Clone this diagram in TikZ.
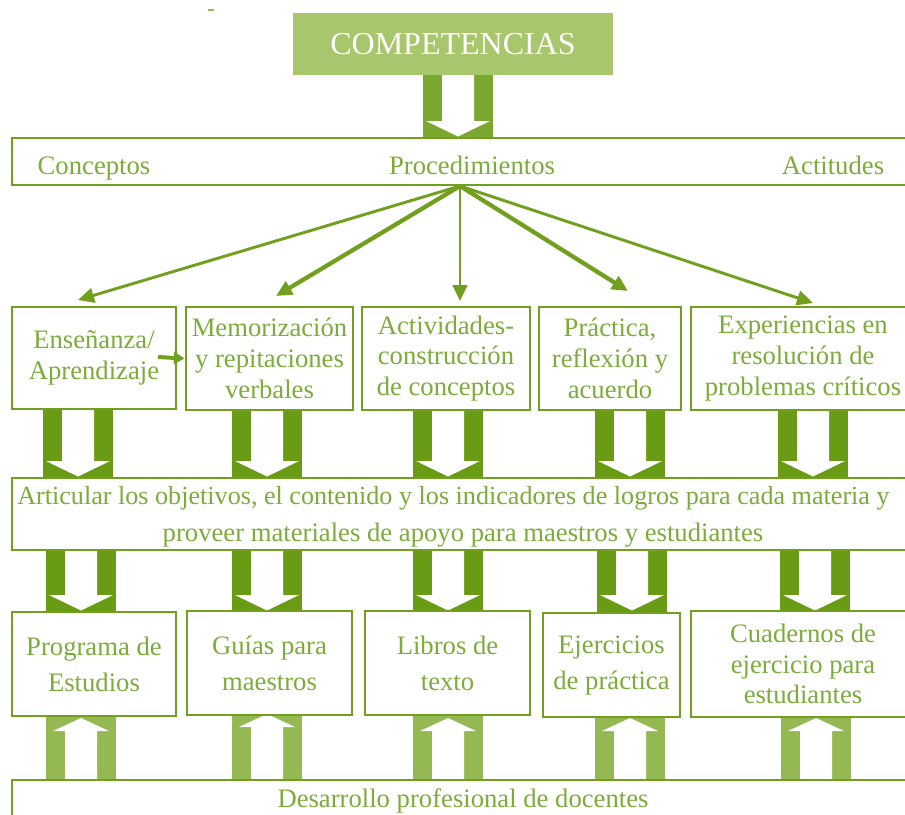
\documentclass[tikz,border=0pt]{standalone}
\usepackage{fontspec}
\setmainfont{Liberation Serif}
\usetikzlibrary{arrows.meta}
\definecolor{txtg}{RGB}{124,172,58}
\definecolor{lineg}{RGB}{112,160,30}
\definecolor{darkg}{RGB}{106,155,20}
\definecolor{midg}{RGB}{122,168,46}
\definecolor{lightg}{RGB}{148,184,82}
\definecolor{headg}{RGB}{168,198,108}
\newcommand\blkdown[4]{%
  \fill[#4] (#1-35,#2) rectangle (#1+35,#3);
  \fill[white] (#1-16,#2) -- (#1+16,#2) -- (#1+16,#3-17) -- (#1+32,#3-17) -- (#1,#3-1.5) -- (#1-32,#3-17) -- (#1-16,#3-17) -- cycle;}
\newcommand\blkup[4]{%
  \fill[#4] (#1-35,#2) rectangle (#1+35,#3);
  \fill[white] (#1-16,#3) -- (#1+16,#3) -- (#1+16,#2+15) -- (#1+28,#2+15) -- (#1,#2+2) -- (#1-28,#2+15) -- (#1-16,#2+15) -- cycle;}
\begin{document}
\begin{tikzpicture}[x=0.75pt,y=-0.75pt,
  sz/.style 2 args={minimum width=#1*0.75pt,minimum height=#2*0.75pt},
  box/.style={draw=lineg,line width=2.2pt,fill=white,text=txtg,align=center,
     font=\fontsize{20}{23}\selectfont,inner sep=0pt},
  lbl/.style={text=txtg,font=\fontsize{20}{23}\selectfont,inner sep=0pt},
  fan/.style={draw=lineg,line width=2.2pt,-{Triangle[length=12pt,width=11pt]}},
  fanthick/.style={fan,line width=3.2pt},
]
\useasboundingbox (0,0) rectangle (905,814);
\fill[lightg] (208,9) rectangle (214,11);

% block arrows
\blkdown{458}{75}{138}{midg}
\foreach \cx in {78,267,448,630,813}{\blkdown{\cx}{410}{478}{darkg}}
\foreach \cx in {81,267,448,632,815}{\blkdown{\cx}{550}{612}{darkg}}
\foreach \cx in {81,448,630,816}{\blkup{\cx}{716}{780}{lightg}}
\blkup{267}{712}{780}{lightg}

% top
\node[fill=headg,sz={320}{62},inner sep=0pt,text=white,font=\fontsize{24}{28}\selectfont] (comp) at (453,44) {COMPETENCIAS};

% band 1
\node[box,sz={902}{47}] (band1) at (463,161.5) {};
\node[lbl,anchor=base] (conc) at (94,174) {Conceptos};
\node[lbl,anchor=base] (proc) at (472,174) {Procedimientos};
\node[lbl,anchor=base] (act) at (833,174) {Actitudes};

% row 2
\node[box,sz={164}{102}] (e1) at (94,358) {Enseñanza/\\Aprendizaje};
\node[box,sz={167}{103}] (e2) at (269.5,358.5) {Memorización\\y repitaciones\\verbales};
\node[box,sz={168}{103}] (e3) at (446,358.5) {Actividades-\\construcción\\de conceptos};
\node[box,sz={142}{103}] (e4) at (610,358.5) {Práctica,\\reflexión y\\acuerdo};
\node[box,sz={224}{103}] (e5) at (803,358.5) {Experiencias en\\resolución de\\problemas críticos};

% band 2
\node[box,sz={902}{72}] (band2) at (463,514) {};
\node[lbl,anchor=base west,font=\fontsize{19.6}{23}\selectfont] (art1) at (17,504) {Articular los objetivos, el contenido y los indicadores de logros para cada materia y};
\node[lbl,anchor=base] (art2) at (463,541) {proveer materiales de apoyo para maestros y estudiantes};

% row 3
\node[box,sz={164}{104}] (r1) at (94,664) {Programa de\\[4pt]Estudios};
\node[box,sz={165}{104}] (r2) at (269.5,663) {Guías para\\[4pt]maestros};
\node[box,sz={165}{104}] (r3) at (447.5,663) {Libros de\\[4pt]texto};
\node[box,sz={137}{104}] (r4) at (611.5,665) {Ejercicios\\[4pt]de práctica};
\node[box,sz={224}{106}] (r5) at (803,664) {Cuadernos de\\ejercicio para\\estudiantes};

% band 3
\node[box,sz={902}{60}] (band3) at (463,810) {};
\node[lbl,anchor=base] (desa) at (463,807) {Desarrollo profesional de docentes};

% fan arrows
\coordinate (hub) at (460,186);
\coordinate (t1) at (78,300);
\coordinate (t2) at (276,296);
\coordinate (t3) at (460,301);
\coordinate (t4) at (628,291);
\coordinate (t5) at (813,303);
\draw[fan] (hub) -- (t1);
\draw[fanthick] (hub) -- (t2);
\draw[fan,line width=2pt] (hub) -- (t3);
\draw[fanthick] (hub) -- (t4);
\draw[fan] (hub) -- (t5);

% small arrow
\coordinate (s1) at (158,357);
\draw[lineg,line width=3pt,-{Triangle[length=8pt,width=9pt]}] (s1) -- (e2.west);
\end{tikzpicture}
\end{document}
